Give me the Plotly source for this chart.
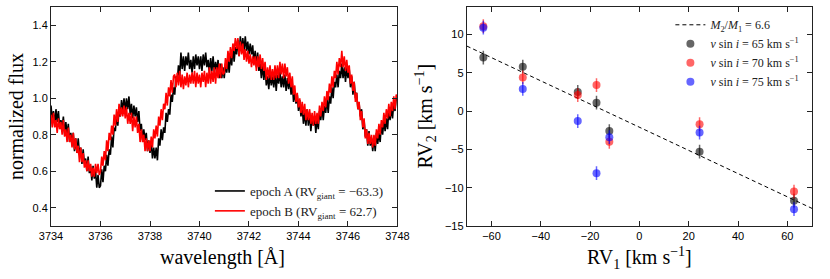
import numpy as np
import plotly.graph_objects as go

# ---------------- data ----------------
# wavelength grid (0.05 A steps) for the two spectra
wave_start = 3734.0
wave_step = 0.05

flux_epoch_a = [
    0.96, 0.88, 0.93, 0.85, 0.94, 0.87, 0.93, 0.84, 0.88, 0.84, 0.90, 0.80, 0.87, 0.80, 0.86, 0.76, 0.81, 0.75, 0.81, 0.71,
    0.78, 0.70, 0.78, 0.69, 0.73, 0.64, 0.72, 0.64, 0.67, 0.60, 0.68, 0.59, 0.63, 0.55, 0.63, 0.56, 0.60, 0.51, 0.58, 0.51,
    0.52, 0.61, 0.54, 0.63, 0.60, 0.69, 0.63, 0.72, 0.69, 0.79, 0.73, 0.84, 0.82, 0.91, 0.85, 0.94, 0.90, 0.99, 0.93, 1.00,
    0.93, 1.00, 0.94, 1.01, 0.91, 0.97, 0.89, 0.96, 0.90, 0.95, 0.87, 0.93, 0.82, 0.86, 0.77, 0.83, 0.77, 0.81, 0.71, 0.77,
    0.70, 0.76, 0.67, 0.73, 0.67, 0.73, 0.66, 0.78, 0.74, 0.83, 0.77, 0.84, 0.81, 0.92, 0.87, 0.94, 0.91, 1.02, 0.98, 1.06,
    1.02, 1.12, 1.09, 1.18, 1.12, 1.25, 1.16, 1.23, 1.15, 1.23, 1.18, 1.25, 1.16, 1.21, 1.14, 1.23, 1.16, 1.24, 1.18, 1.23,
    1.16, 1.23, 1.15, 1.24, 1.18, 1.25, 1.17, 1.21, 1.14, 1.22, 1.15, 1.23, 1.14, 1.20, 1.15, 1.21, 1.11, 1.19, 1.11, 1.17,
    1.11, 1.19, 1.14, 1.21, 1.14, 1.24, 1.18, 1.28, 1.20, 1.28, 1.24, 1.32, 1.23, 1.34, 1.26, 1.33, 1.26, 1.34, 1.26, 1.31,
    1.24, 1.30, 1.24, 1.29, 1.19, 1.26, 1.17, 1.25, 1.15, 1.19, 1.11, 1.18, 1.10, 1.17, 1.07, 1.12, 1.05, 1.14, 1.07, 1.12,
    1.06, 1.13, 1.04, 1.13, 1.08, 1.15, 1.06, 1.12, 1.06, 1.13, 1.04, 1.11, 1.05, 1.11, 1.02, 1.08, 0.98, 1.03, 0.97, 1.02,
    0.93, 0.99, 0.90, 0.95, 0.86, 0.92, 0.85, 0.94, 0.85, 0.92, 0.82, 0.90, 0.85, 0.90, 0.81, 0.89, 0.83, 0.93, 0.88, 0.95,
    0.88, 0.96, 0.92, 1.00, 0.92, 1.01, 0.97, 1.06, 1.00, 1.09, 1.06, 1.13, 1.06, 1.15, 1.11, 1.19, 1.11, 1.17, 1.09, 1.17,
    1.11, 1.16, 1.06, 1.12, 1.02, 1.09, 1.00, 1.03, 0.94, 0.97, 0.90, 0.94, 0.83, 0.88, 0.79, 0.83, 0.74, 0.82, 0.74, 0.78,
    0.71, 0.79, 0.71, 0.81, 0.75, 0.81, 0.76, 0.86, 0.80, 0.88, 0.82, 0.89, 0.83, 0.94, 0.88, 0.95, 0.89, 0.98, 0.93, 1.00,
    0.99,
]

flux_epoch_b = [
    0.91, 0.84, 0.92, 0.84, 0.88, 0.81, 0.89, 0.83, 0.87, 0.80, 0.88, 0.79, 0.83, 0.76, 0.84, 0.76, 0.80, 0.73, 0.81, 0.72,
    0.78, 0.70, 0.74, 0.65, 0.73, 0.65, 0.70, 0.62, 0.66, 0.60, 0.66, 0.60, 0.64, 0.57, 0.62, 0.57, 0.64, 0.59, 0.64, 0.58,
    0.60, 0.68, 0.63, 0.71, 0.66, 0.77, 0.71, 0.81, 0.77, 0.85, 0.80, 0.91, 0.85, 0.94, 0.87, 0.97, 0.90, 0.95, 0.90, 0.96,
    0.89, 0.95, 0.86, 0.92, 0.86, 0.92, 0.82, 0.90, 0.84, 0.90, 0.81, 0.86, 0.76, 0.83, 0.76, 0.80, 0.71, 0.78, 0.71, 0.77,
    0.71, 0.79, 0.73, 0.83, 0.78, 0.85, 0.79, 0.90, 0.85, 0.94, 0.88, 0.97, 0.94, 1.03, 0.96, 1.06, 1.01, 1.10, 1.03, 1.12,
    1.13, 1.06, 1.14, 1.07, 1.15, 1.06, 1.13, 1.05, 1.12, 1.07, 1.14, 1.06, 1.13, 1.08, 1.14, 1.08, 1.15, 1.06, 1.14, 1.08,
    1.13, 1.06, 1.14, 1.09, 1.15, 1.06, 1.14, 1.08, 1.17, 1.08, 1.15, 1.09, 1.17, 1.08, 1.17, 1.11, 1.19, 1.11, 1.19, 1.13,
    1.14, 1.22, 1.16, 1.26, 1.20, 1.28, 1.22, 1.30, 1.26, 1.33, 1.27, 1.33, 1.23, 1.31, 1.24, 1.30, 1.21, 1.27, 1.20, 1.26,
    1.19, 1.24, 1.17, 1.23, 1.18, 1.23, 1.15, 1.23, 1.17, 1.24, 1.16, 1.22, 1.15, 1.20, 1.10, 1.17, 1.11, 1.18, 1.10, 1.16,
    1.10, 1.18, 1.11, 1.18, 1.11, 1.20, 1.13, 1.19, 1.11, 1.19, 1.12, 1.17, 1.08, 1.14, 1.06, 1.12, 1.02, 1.07, 0.98, 1.03,
    0.95, 1.00, 0.92, 0.98, 0.91, 0.97, 0.88, 0.94, 0.88, 0.94, 0.86, 0.92, 0.85, 0.93, 0.86, 0.92, 0.86, 0.96, 0.90, 0.98,
    0.93, 1.01, 0.95, 1.04, 0.99, 1.08, 1.03, 1.12, 1.06, 1.15, 1.11, 1.20, 1.13, 1.22, 1.17, 1.26, 1.17, 1.23, 1.15, 1.21,
    1.14, 1.18, 1.08, 1.13, 1.04, 1.09, 0.98, 1.03, 0.94, 0.98, 0.88, 0.93, 0.84, 0.89, 0.78, 0.83, 0.75, 0.81, 0.75, 0.80,
    0.73, 0.80, 0.74, 0.83, 0.78, 0.86, 0.80, 0.88, 0.84, 0.92, 0.86, 0.94, 0.89, 0.97, 0.90, 0.98, 0.93, 1.01, 0.94, 1.02,
    1.00,
]

wavelength = np.round(wave_start + wave_step * np.arange(len(flux_epoch_a)), 2)

# RV measurements (km/s)
rv1 = [-63.3, -47.3, -25.0, -17.4, -12.2, 24.4, 62.7]
rv2_v65 = [7.0, 5.8, 2.5, 1.1, -2.6, -5.3, -11.7]
rv2_v70 = [11.1, 4.4, 2.1, 3.4, -4.0, -1.7, -10.5]
rv2_v75 = [10.9, 2.9, -1.3, -8.1, -3.4, -2.8, -12.8]
rv2_err = [0.9, 0.9, 0.9, 0.9, 0.9, 0.9, 0.9]

# mass-ratio line M2/M1 = 6.6 (end points)
fit_x = [-70, 70]
fit_y = [8.5, -12.7]

# ---------------- figure ----------------
SERIF = "Liberation Serif"
SANS = "Liberation Sans"

fig = go.Figure()

fig.add_trace(go.Scatter(
    x=wavelength, y=flux_epoch_a, mode="lines",
    line=dict(color="black", width=1.6),
    name="epoch A (RV<sub>giant</sub> = \u221263.3)",
    xaxis="x", yaxis="y", legend="legend",
))
fig.add_trace(go.Scatter(
    x=wavelength, y=flux_epoch_b, mode="lines",
    line=dict(color="red", width=1.6),
    name="epoch B (RV<sub>giant</sub> = 62.7)",
    xaxis="x", yaxis="y", legend="legend",
))

fig.add_trace(go.Scatter(
    x=fit_x, y=fit_y, mode="lines",
    line=dict(color="black", width=1, dash="4px,3px"),
    name="<i>M</i><sub>2</sub>/<i>M</i><sub>1</sub> = 6.6",
    xaxis="x2", yaxis="y2", legend="legend2",
))

for vals, col, lab in [
    (rv2_v65, "rgba(0,0,0,0.6)", "65"),
    (rv2_v70, "rgba(255,0,0,0.6)", "70"),
    (rv2_v75, "rgba(0,0,255,0.6)", "75"),
]:
    fig.add_trace(go.Scatter(
        x=rv1, y=vals, mode="markers",
        marker=dict(color=col, size=8, line=dict(width=0)),
        error_y=dict(type="data", array=rv2_err, color=col, thickness=1.5, width=0),
        name="<i>v</i> sin <i>i</i> = " + lab + " km s<sup>\u22121</sup>",
        xaxis="x2", yaxis="y2", legend="legend2",
    ))

axis_common = dict(
    showline=True, linecolor="#222", linewidth=1, mirror="allticks",
    ticks="inside", ticklen=5, tickcolor="#222", tickwidth=1,
    showgrid=False, zeroline=False,
    tickfont=dict(family=SANS, size=11, color="black"),
)

TITLE_FONT = dict(family=SERIF, size=20, color="black")

fig.update_layout(
    width=830, height=279,
    margin=dict(l=51, r=8, t=6, b=53),
    paper_bgcolor="white", plot_bgcolor="white",
    showlegend=True,
    xaxis=dict(domain=[0, 0.4553], range=[3734, 3748], dtick=2, anchor="y", **axis_common),
    yaxis=dict(domain=[0, 1], range=[0.3, 1.5], dtick=0.2, tickformat=".1f", anchor="x", **axis_common),
    xaxis2=dict(domain=[0.5464, 1.0], range=[-70, 70], dtick=20, anchor="y2", **axis_common),
    yaxis2=dict(domain=[0, 1], range=[-15, 13.6], dtick=5, anchor="x2", **axis_common),
    legend=dict(
        x=0.444, y=0.0, xanchor="right", yanchor="bottom",
        bgcolor="rgba(0,0,0,0)", font=dict(family=SERIF, size=13, color="#222"),
        tracegroupgap=0,
    ),
    legend2=dict(
        x=0.99, y=0.985, xanchor="right", yanchor="top",
        bgcolor="rgba(0,0,0,0)", font=dict(family=SERIF, size=12, color="#222"),
        tracegroupgap=0,
    ),
    annotations=[
        dict(text="normalized flux", xref="paper", yref="paper", x=-0.0465, y=0.5,
             textangle=-90, showarrow=False, font=TITLE_FONT,
             xanchor="center", yanchor="middle"),
        dict(text="wavelength [\u00c5]", xref="paper", yref="paper", x=0.2258, y=-0.1455,
             showarrow=False, font=TITLE_FONT, xanchor="center", yanchor="middle"),
        dict(text="RV<sub>2</sub> [km s<sup>\u22121</sup>]", xref="paper", yref="paper", x=0.4915, y=0.5,
             textangle=-90, showarrow=False, font=TITLE_FONT,
             xanchor="center", yanchor="middle"),
        dict(text="RV<sub>1</sub> [km s<sup>\u22121</sup>]", xref="paper", yref="paper", x=0.7733, y=-0.1455,
             showarrow=False, font=TITLE_FONT, xanchor="center", yanchor="middle"),
    ],
)

fig.write_html(
    "out.html",
    config={"displayModeBar": False},
    post_script="document.body.style.margin='0px';",
)
